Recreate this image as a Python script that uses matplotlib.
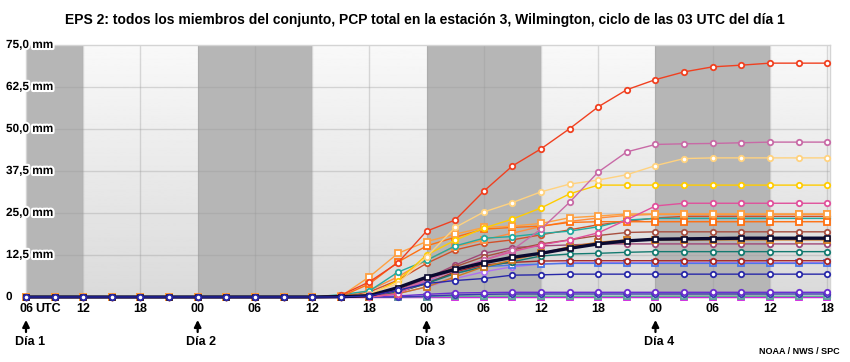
import matplotlib
matplotlib.use("Agg")
import matplotlib.pyplot as plt
import matplotlib.transforms as mtransforms
import matplotlib.patheffects as pe
import numpy as np

plt.rcParams["font.family"] = ["Liberation Sans", "DejaVu Sans"]

# pasos de 3 h desde las 06 UTC del día 1 hasta las 18 UTC del día 4
hours = np.arange(29) * 3

x_tick_hours = [0, 6, 12, 18, 24, 30, 36, 42, 48, 54, 60, 66, 72, 78, 84]
x_tick_labels = ["06", "12", "18", "00", "06", "12", "18", "00", "06", "12", "18", "00", "06", "12", "18"]
day_hours = [0, 18, 42, 66]
day_labels = ["Día 1", "Día 2", "Día 3", "Día 4"]
night_spans = [(0, 6), (18, 30), (42, 54), (66, 78)]

y_ticks = [0, 12.5, 25.0, 37.5, 50.0, 62.5, 75.0]
y_labels = ["0", "12,5 mm", "25,0 mm", "37,5 mm", "50,0 mm", "62,5 mm", "75,0 mm"]

# miembros del conjunto (mm acumulados)
red = [0, 0, 0, 0, 0, 0, 0, 0, 0, 0, 0, 0.5, 4.5, 10.2, 19.6, 22.9, 31.5, 39.0, 44.1, 50.1, 56.6, 61.7, 64.7, 67.0, 68.5, 69.0, 69.6, 69.6, 69.6]
orchid = [0, 0, 0, 0, 0, 0, 0, 0, 0, 0, 0, 0, 0.5, 2.0, 5.0, 8.0, 11.0, 14.0, 20.2, 28.2, 37.2, 43.2, 45.4, 45.6, 45.7, 45.9, 46.1, 46.1, 46.1]
peach = [0, 0, 0, 0, 0, 0, 0, 0, 0, 0, 0, 0, 1.0, 4.0, 12.0, 20.7, 25.3, 28.1, 31.3, 33.6, 34.8, 36.4, 39.1, 41.2, 41.4, 41.4, 41.4, 41.4, 41.4]
gold = [0, 0, 0, 0, 0, 0, 0, 0, 0, 0, 0, 0, 0.5, 4.9, 12.5, 16.9, 20.5, 23.2, 26.5, 30.7, 33.3, 33.3, 33.3, 33.3, 33.3, 33.3, 33.3, 33.3, 33.3]
hotpink = [0, 0, 0, 0, 0, 0, 0, 0, 0, 0, 0, 0, 0, 1.0, 5.0, 8.0, 11.0, 13.5, 15.5, 17.0, 19.1, 23.0, 27.1, 27.9, 27.9, 27.9, 27.9, 27.9, 27.9]
lt_orange = [0, 0, 0, 0, 0, 0, 0, 0, 0, 0, 0, 0.2, 6.0, 13.0, 16.5, 18.7, 20.7, 21.1, 21.9, 23.6, 24.1, 24.7, 24.7, 24.7, 24.7, 24.7, 24.7, 24.7, 24.7]
orange = [0, 0, 0, 0, 0, 0, 0, 0, 0, 0, 0, 0.1, 3.9, 10.4, 15.2, 17.8, 20.2, 20.7, 21.1, 22.2, 22.4, 22.4, 22.4, 22.4, 22.4, 22.4, 22.4, 22.4, 22.4]
teal = [0, 0, 0, 0, 0, 0, 0, 0, 0, 0, 0, 0.7, 1.8, 7.4, 10.9, 15.2, 17.5, 18.0, 18.9, 19.6, 20.9, 22.9, 23.4, 23.4, 23.4, 23.4, 23.4, 23.4, 23.4]
sienna = [0, 0, 0, 0, 0, 0, 0, 0, 0, 0, 0, 0, 1.5, 5.0, 10.0, 14.0, 16.0, 17.0, 18.5, 20.0, 21.5, 22.5, 23.5, 24.0, 24.0, 24.0, 24.0, 24.0, 24.0]
coral = [0, 0, 0, 0, 0, 0, 0, 0, 0, 0, 0, 0, 2.0, 6.0, 11.0, 15.0, 17.0, 19.0, 21.0, 22.5, 23.5, 24.3, 24.6, 24.6, 24.6, 24.6, 24.6, 24.6, 24.6]
brown = [0, 0, 0, 0, 0, 0, 0, 0, 0, 0, 0, 0, 0.5, 2.0, 5.0, 9.0, 12.0, 14.0, 15.8, 17.0, 18.3, 19.2, 19.4, 19.4, 19.4, 19.4, 19.4, 19.4, 19.4]
orange_brown = [0, 0, 0, 0, 0, 0, 0, 0, 0, 0, 0, 0, 0, 1.0, 3.0, 6.0, 9.0, 11.0, 13.0, 15.0, 16.3, 17.0, 17.0, 17.0, 17.0, 17.0, 17.0, 17.0, 17.0]
plum = [0, 0, 0, 0, 0, 0, 0, 0, 0, 0, 0, 0, 0, 2.0, 5.5, 9.5, 13.0, 14.7, 15.2, 15.5, 15.8, 15.8, 15.8, 15.8, 15.8, 15.8, 15.8, 15.8, 15.8]
dark_teal = [0, 0, 0, 0, 0, 0, 0, 0, 0, 0, 0, 0, 0.3, 1.5, 4.0, 7.0, 9.0, 10.5, 12.2, 12.8, 13.0, 13.3, 13.5, 13.5, 13.5, 13.5, 13.5, 13.5, 13.5]
dark_red = [0, 0, 0, 0, 0, 0, 0, 0, 0, 0, 0, 0, 0.3, 1.5, 4.0, 7.5, 9.5, 10.3, 10.7, 10.8, 10.8, 10.8, 10.8, 10.8, 10.8, 10.8, 10.8, 10.8, 10.8]
blue = [0, 0, 0, 0, 0, 0, 0, 0, 0, 0, 0, 0, 0.2, 1.5, 4.5, 7.0, 9.0, 9.5, 9.8, 10.0, 10.0, 10.0, 10.0, 10.0, 10.0, 10.0, 10.0, 10.0, 10.0]
violet = [0, 0, 0, 0, 0, 0, 0, 0, 0, 0, 0, 0, 0, 1.0, 3.0, 5.5, 7.5, 9.0, 9.8, 10.2, 10.2, 10.2, 10.2, 10.2, 10.2, 10.2, 10.2, 10.2, 10.2]
navy = [0, 0, 0, 0, 0, 0, 0, 0, 0, 0, 0, 0, 0.3, 2.0, 4.0, 4.9, 5.5, 6.5, 6.6, 6.8, 6.8, 6.8, 6.8, 6.8, 6.8, 6.8, 6.8, 6.8, 6.8]
purple = [0, 0, 0, 0, 0, 0, 0, 0, 0, 0, 0, 0, 0, 0.3, 0.8, 1.2, 1.3, 1.4, 1.4, 1.4, 1.4, 1.4, 1.4, 1.4, 1.4, 1.4, 1.4, 1.4, 1.4]
indigo = [0, 0, 0, 0, 0, 0, 0, 0, 0, 0, 0, 0, 0, 0, 0.3, 0.6, 0.8, 0.9, 0.9, 0.9, 0.9, 0.9, 0.9, 0.9, 0.9, 0.9, 0.9, 0.9, 0.9]
sea_green = [0, 0, 0, 0, 0, 0, 0, 0, 0, 0, 0, 0, 0, 0, 0.1, 0.2, 0.2, 0.2, 0.2, 0.2, 0.2, 0.2, 0.2, 0.2, 0.2, 0.2, 0.2, 0.2, 0.2]
magenta = [0, 0, 0, 0, 0, 0, 0, 0, 0, 0, 0, 0, 0, 0, 0, 0, 0, 0, 0, 0, 0, 0, 0, 0, 0, 0, 0, 0, 0]
# media del conjunto
mean = [0, 0, 0, 0, 0, 0, 0, 0, 0, 0, 0, 0.1, 0.4, 2.8, 5.9, 8.2, 10.2, 11.8, 13.0, 14.5, 15.8, 16.7, 17.2, 17.3, 17.4, 17.5, 17.5, 17.5, 17.5]

members = [
    (magenta, "#cc22dd", "s"),
    (sea_green, "#5fa89a", "s"),
    (indigo, "#3a3ab0", "o"),
    (purple, "#6a2ed0", "o"),
    (violet, "#b070f0", "o"),
    (blue, "#4a78e8", "s"),
    (dark_red, "#a82828", "o"),
    (dark_teal, "#147a70", "o"),
    (plum, "#a04878", "o"),
    (orange_brown, "#d07820", "s"),
    (brown, "#a85040", "o"),
    (sienna, "#d0502a", "o"),
    (coral, "#ff8c3c", "s"),
    (teal, "#22aaa0", "o"),
    (orange, "#ff7010", "s"),
    (lt_orange, "#ffa040", "s"),
    (hotpink, "#e0509c", "o"),
    (gold, "#ffcc00", "o"),
    (peach, "#ffd27f", "o"),
    (orchid, "#c86aa6", "o"),
    (red, "#f04020", "o"),
]

fig = plt.figure(figsize=(8.5, 3.62), dpi=100)
ax = fig.add_axes([26 / 850, 65 / 362, 804 / 850, 252 / 362])

# fondo: degradado claro y franjas oscuras
grad = np.linspace(0.975, 0.855, 256).reshape(-1, 1)
ax.imshow(grad, cmap="gray", vmin=0, vmax=1, extent=[0, 84.3, 0, 75],
          aspect="auto", origin="upper", zorder=0)
for a, b in night_spans:
    ax.axvspan(a, b, color="#b6b6b6", zorder=0.5, lw=0)

for h in x_tick_hours:
    ax.axvline(h, color="#9a9a9a", alpha=0.35, lw=1, zorder=1)
for v in y_ticks[1:-1]:
    ax.axhline(v, color="#9a9a9a", alpha=0.35, lw=1, zorder=1)

for vals, col, mk in members:
    ax.plot(hours, vals, color=col, lw=1.0, marker=mk, ms=3.9, mew=1.3,
            mfc="white", mec=col, zorder=3, clip_on=False)
ax.plot(hours, mean, color="#0a0a30", lw=2.4, marker="s", ms=3.6, mew=1.2,
        mfc="white", mec="#0a0a30", zorder=4, clip_on=False)
ax.plot(hours, navy, color="#2828a8", lw=1.0, marker="o", ms=3.9, mew=1.3,
        mfc="white", mec="#2828a8", zorder=4.5, clip_on=False)

ax.set_xlim(0, 84.3)
ax.set_ylim(0, 75)
ax.set_xticks([])
ax.set_yticks([])
for s in ax.spines.values():
    s.set_color("#d4d4d4")
    s.set_linewidth(1)

# etiquetas del eje y
halo = [pe.withStroke(linewidth=3, foreground="white")]
ytr = mtransforms.blended_transform_factory(fig.transFigure, ax.transData)
for v, lab in zip(y_ticks, y_labels):
    ax.text(6 / 850, v, lab, transform=ytr, ha="left", va="center",
            fontsize=8.5, fontweight="bold", path_effects=halo, zorder=5)

# etiquetas del eje x
xtr = ax.get_xaxis_transform()
for h, lab in zip(x_tick_hours, x_tick_labels):
    ax.text(h, -0.048, lab, transform=xtr, ha="center", va="center",
            fontsize=9, fontweight="bold")
ax.text(1.0, -0.048, "UTC", transform=xtr, ha="left", va="center",
        fontsize=9, fontweight="bold")

for h, lab in zip(day_hours, day_labels):
    ax.annotate("", xy=(h, -0.08), xytext=(h, -0.15), xycoords=xtr,
                textcoords=xtr,
                arrowprops=dict(arrowstyle="-|>", color="black", lw=1.6,
                                mutation_scale=10))
    ax.text(h + 0.4, -0.18, lab, transform=xtr, ha="center", va="center",
            fontsize=9, fontweight="bold")

fig.text(425 / 850, 1 - 20 / 362,
         "EPS 2: todos los miembros del conjunto, PCP total en la estación 3, "
         "Wilmington, ciclo de las 03 UTC del día 1",
         ha="center", va="center", fontsize=10, fontweight="bold")
fig.text(840 / 850, 1 - 352 / 362, "NOAA / NWS / SPC", ha="right",
         va="center", fontsize=6.5, fontweight="bold")

fig.savefig("out.png", dpi=100)
